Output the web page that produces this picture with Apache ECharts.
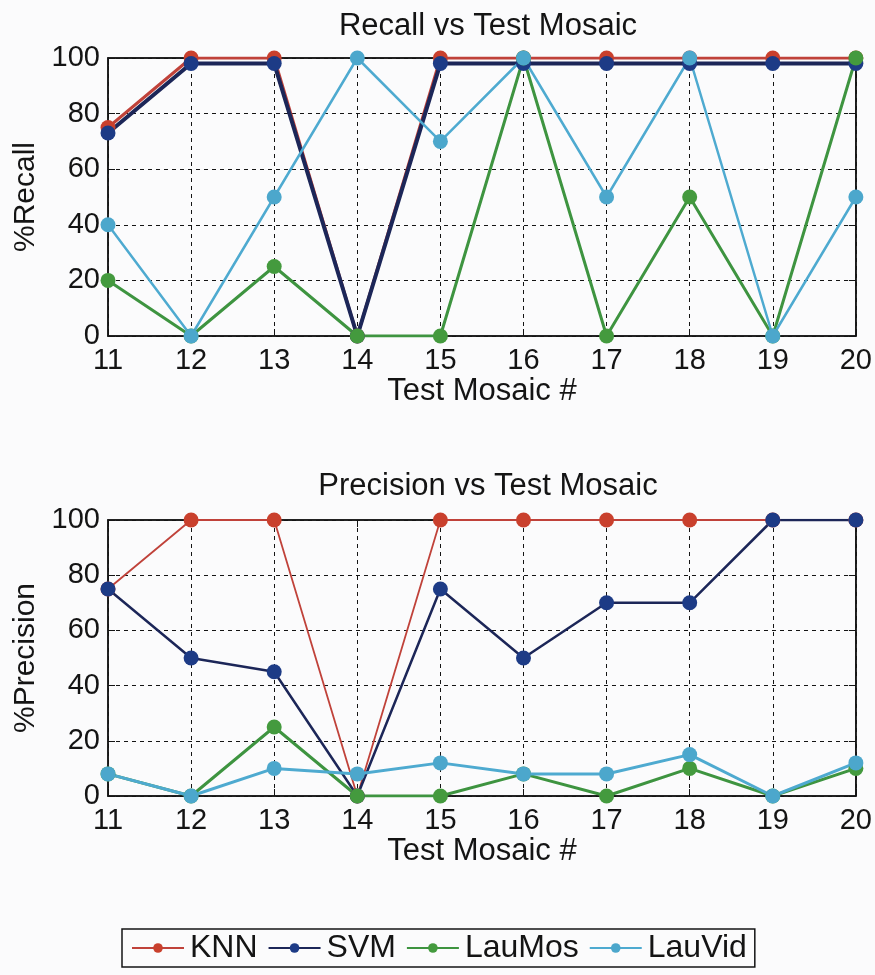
<!DOCTYPE html>
<html>
<head>
<meta charset="utf-8">
<script src="https://cdn.jsdelivr.net/npm/echarts@6/dist/echarts.min.js"></script>
<style>
  html, body { margin: 0; padding: 0; background: #fbfbfc; }
  #chart { width: 875px; height: 975px; }
</style>
</head>
<body>
<div id="chart"></div>
<script>
// Test mosaic numbers along the x axis
const mosaics = [11, 12, 13, 14, 15, 16, 17, 18, 19, 20];
const seriesNames = ['KNN', 'SVM', 'LauMos', 'LauVid'];

// Recall (%) per method
const recallKNN    = [75, 100, 100, 0, 100, 100, 100, 100, 100, 100];
const recallSVM    = [73, 98, 98, 0, 98, 98, 98, 98, 98, 98];
const recallLauMos = [20, 0, 25, 0, 0, 100, 0, 50, 0, 100];
const recallLauVid = [40, 0, 50, 100, 70, 100, 50, 100, 0, 50];

// Precision (%) per method
const precKNN    = [75, 100, 100, 0, 100, 100, 100, 100, 100, 100];
const precSVM    = [75, 50, 45, 0, 75, 50, 70, 70, 100, 100];
const precLauMos = [8, 0, 25, 0, 0, 8, 0, 10, 0, 10];
const precLauVid = [8, 0, 10, 8, 12, 8, 8, 15, 0, 12];

const yTicks = [0, 20, 40, 60, 80, 100];

const colors = {
  KNN:    { line: '#c0423a', mark: '#c9402d' },
  SVM:    { line: '#1c2658', mark: '#1d3b86' },
  LauMos: { line: '#3e9440', mark: '#449a3e' },
  LauVid: { line: '#4eaad0', mark: '#4ca7cc' }
};

const FONT = '"Liberation Sans", Arial, Helvetica, sans-serif';
const INK = '#141414';

function pairs(vals) { return mosaics.map((m, i) => [m, vals[i]]); }

function lineSeries(name, vals, gridIdx, width, size) {
  return {
    name: name,
    type: 'line',
    xAxisIndex: gridIdx,
    yAxisIndex: gridIdx,
    data: pairs(vals),
    symbol: 'circle',
    symbolSize: size,
    lineStyle: { color: colors[name].line, width: width },
    itemStyle: { color: colors[name].mark },
    emphasis: { disabled: true },
    animation: false,
    z: 3
  };
}

function xAxis(gridIdx) {
  return {
    type: 'value', gridIndex: gridIdx, min: 11, max: 20, interval: 1,
    name: 'Test Mosaic #', nameLocation: 'middle', nameGap: 40,
    nameTextStyle: { fontFamily: FONT, fontSize: 31, color: INK },
    axisLine: { show: true, onZero: false, lineStyle: { color: INK, width: 1.5 } },
    axisTick: { show: true, inside: true, length: 7, lineStyle: { color: INK } },
    axisLabel: { fontFamily: FONT, fontSize: 29, color: INK, margin: 10 },
    splitLine: { show: true, lineStyle: { color: INK, type: [4, 4], width: 1 } }
  };
}

function yAxis(gridIdx, name) {
  return {
    type: 'value', gridIndex: gridIdx, min: 0, max: 100, interval: 20,
    name: name, nameLocation: 'middle', nameGap: 66, nameRotate: 90,
    nameTextStyle: { fontFamily: FONT, fontSize: 30, color: INK },
    axisLine: { show: true, lineStyle: { color: INK, width: 1.5 } },
    axisTick: { show: true, inside: true, length: 7, lineStyle: { color: INK } },
    axisLabel: { fontFamily: FONT, fontSize: 29, color: INK, margin: 8,
      formatter: v => yTicks.includes(v) ? String(v) : '' },
    splitLine: { show: true, lineStyle: { color: INK, type: [4, 4], width: 1 } }
  };
}

// Mirror axes on the top and right edges: tick marks only, like a boxed plot
function mirrorX(gridIdx) {
  return {
    type: 'value', gridIndex: gridIdx, position: 'top', min: 11, max: 20, interval: 1,
    axisLine: { show: true, onZero: false, lineStyle: { color: INK, width: 1.5 } },
    axisTick: { show: true, inside: true, length: 7, lineStyle: { color: INK } },
    axisLabel: { show: false }, splitLine: { show: false }
  };
}
function mirrorY(gridIdx) {
  return {
    type: 'value', gridIndex: gridIdx, position: 'right', min: 0, max: 100, interval: 20,
    axisLine: { show: true, onZero: false, lineStyle: { color: INK, width: 1.5 } },
    axisTick: { show: true, inside: true, length: 7, lineStyle: { color: INK } },
    axisLabel: { show: false }, splitLine: { show: false }
  };
}

const chart = echarts.init(document.getElementById('chart'), null, { renderer: 'canvas' });

chart.setOption({
  backgroundColor: '#fbfbfc',
  animation: false,
  title: [
    { text: 'Recall vs Test Mosaic', left: 483, top: 6, textAlign: 'center',
      textStyle: { fontFamily: FONT, fontSize: 31, fontWeight: 'normal', color: INK } },
    { text: 'Precision vs Test Mosaic', left: 483, top: 466, textAlign: 'center',
      textStyle: { fontFamily: FONT, fontSize: 31, fontWeight: 'normal', color: INK } }
  ],
  grid: [
    { left: 108, top: 58, width: 754, height: 278, show: true,
      borderColor: INK, borderWidth: 1.5, backgroundColor: 'transparent' },
    { left: 108, top: 520, width: 754, height: 276, show: true,
      borderColor: INK, borderWidth: 1.5, backgroundColor: 'transparent' }
  ],
  xAxis: [xAxis(0), xAxis(1), mirrorX(0), mirrorX(1)],
  yAxis: [yAxis(0, '%Recall'), yAxis(1, '%Precision'), mirrorY(0), mirrorY(1)],
  legend: {
    data: seriesNames,
    left: 122, top: 929,
    orient: 'horizontal',
    itemWidth: 52, itemHeight: 12, itemGap: 10,
    padding: [3, 8, 3, 9],
    borderColor: INK, borderWidth: 1.5,
    backgroundColor: '#fbfbfc',
    textStyle: { fontFamily: FONT, fontSize: 32, color: INK, padding: [0, 0, 0, 1] }
  },
  series: [
    lineSeries('KNN', recallKNN, 0, 3, 15),
    lineSeries('SVM', recallSVM, 0, 4, 15),
    lineSeries('LauMos', recallLauMos, 0, 3, 15),
    lineSeries('LauVid', recallLauVid, 0, 2.5, 15),
    lineSeries('KNN', precKNN, 1, 1.8, 15),
    lineSeries('SVM', precSVM, 1, 2.5, 15),
    lineSeries('LauMos', precLauMos, 1, 3, 15),
    lineSeries('LauVid', precLauVid, 1, 3, 15)
  ]
});
</script>
</body>
</html>
